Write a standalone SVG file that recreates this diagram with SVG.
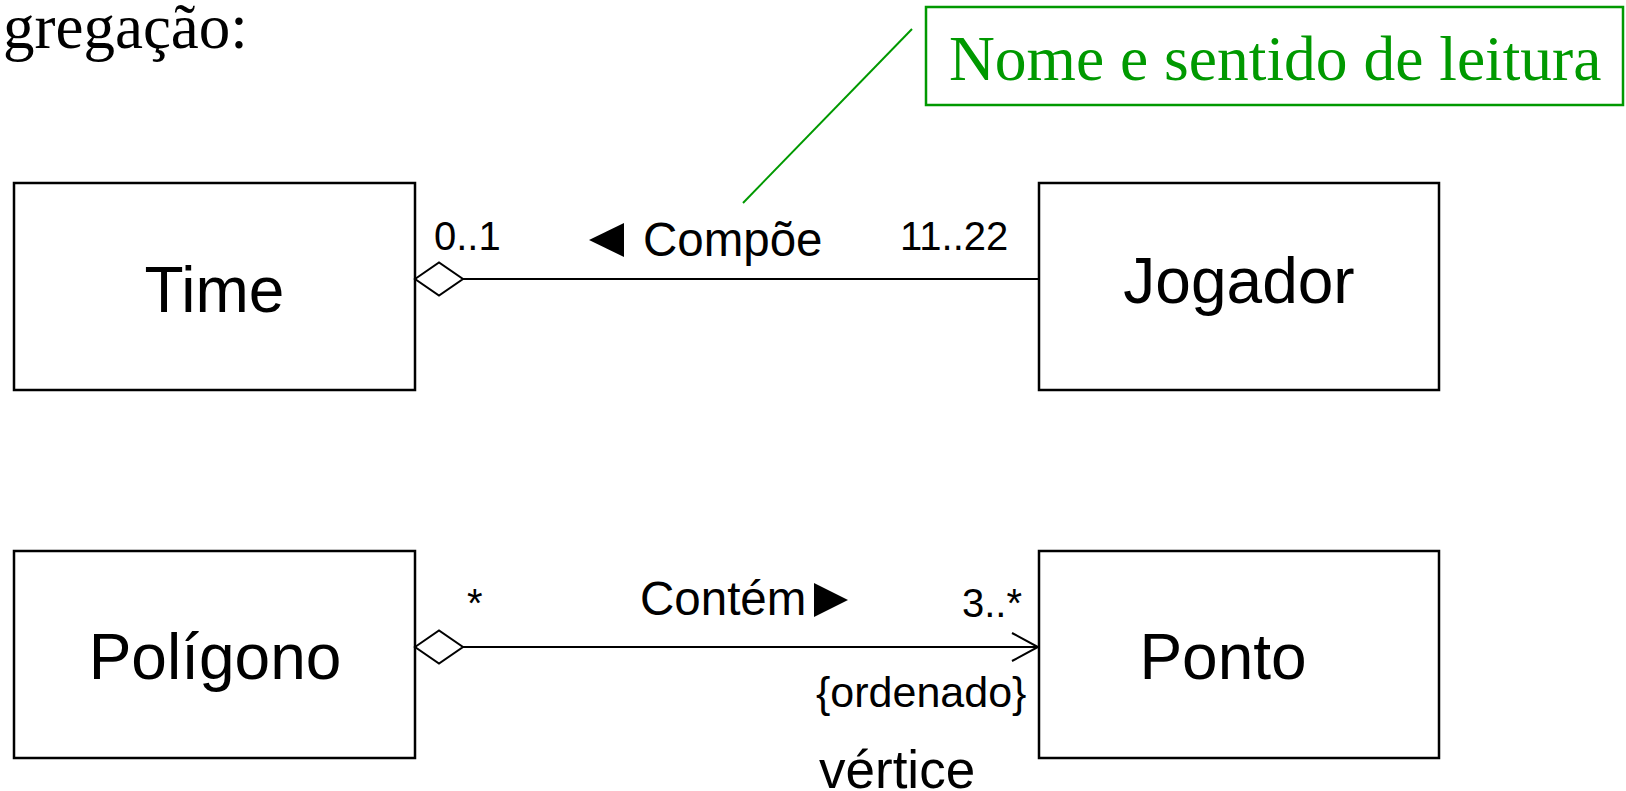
<svg xmlns="http://www.w3.org/2000/svg" width="1626" height="791" viewBox="0 0 1626 791">
<style>
.box{fill:#fff;stroke:#000;stroke-width:2.5}
.lbl{font-family:"Liberation Sans",Arial,sans-serif;fill:#000}
.cls{font-size:64px}
.mult{font-size:40px}
.assoc{font-size:47.5px}
.serif{font-family:"Liberation Serif","Times New Roman",serif}
.conn{stroke:#000;stroke-width:2;fill:none}
.diamond{fill:#fff;stroke:#000;stroke-width:2}
</style>
<rect width="1626" height="791" fill="#fff"/>
<text class="serif" x="3" y="48" font-size="63" fill="#000">gregação:</text>

<g id="note">
<rect x="926" y="7" width="697" height="98" fill="#fff" stroke="#009900" stroke-width="2.5"/>
<text class="serif" x="949" y="80" font-size="63.5" fill="#009900">Nome e sentido de leitura</text>
<line x1="912" y1="29" x2="743" y2="203" stroke="#009900" stroke-width="2"/>
</g>

<g id="time">
<rect class="box" x="14" y="183" width="401" height="207"/>
<text class="lbl cls" x="214.5" y="312" text-anchor="middle">Time</text>
</g>
<g id="jogador">
<rect class="box" x="1039" y="183" width="400" height="207"/>
<text class="lbl cls" x="1239" y="303" text-anchor="middle">Jogador</text>
</g>
<g id="poligono">
<rect class="box" x="14" y="551" width="401" height="207"/>
<text class="lbl cls" x="215" y="679" text-anchor="middle">Polígono</text>
</g>
<g id="ponto">
<rect class="box" x="1039" y="551" width="400" height="207"/>
<text class="lbl cls" x="1223" y="679" text-anchor="middle">Ponto</text>
</g>

<g id="connectors">
<line class="conn" x1="463" y1="279" x2="1039" y2="279"/>
<polygon class="diamond" points="415,279 439,262.5 463,279 439,295.5"/>
<text class="lbl mult" x="434" y="250">0..1</text>
<polygon points="589,240 624,223 624,257" fill="#000"/>
<text class="lbl assoc" x="643" y="256">Compõe</text>
<text class="lbl mult" x="900" y="250">11..22</text>

<line class="conn" x1="463" y1="647" x2="1038" y2="647"/>
<polygon class="diamond" points="415,647 439,630.5 463,647 439,663.5"/>
<polyline class="conn" points="1012,633 1038,647 1012,661"/>
<text class="lbl mult" x="467" y="617">*</text>
<text class="lbl assoc" x="640" y="615">Contém</text>
<polygon points="814,583 848,600 814,617" fill="#000"/>
<text class="lbl mult" x="962" y="617">3..*</text>
<text class="lbl" x="816" y="707" font-size="43">{ordenado}</text>
<text class="lbl" x="819" y="788" font-size="53">vértice</text>
</g>
</svg>
